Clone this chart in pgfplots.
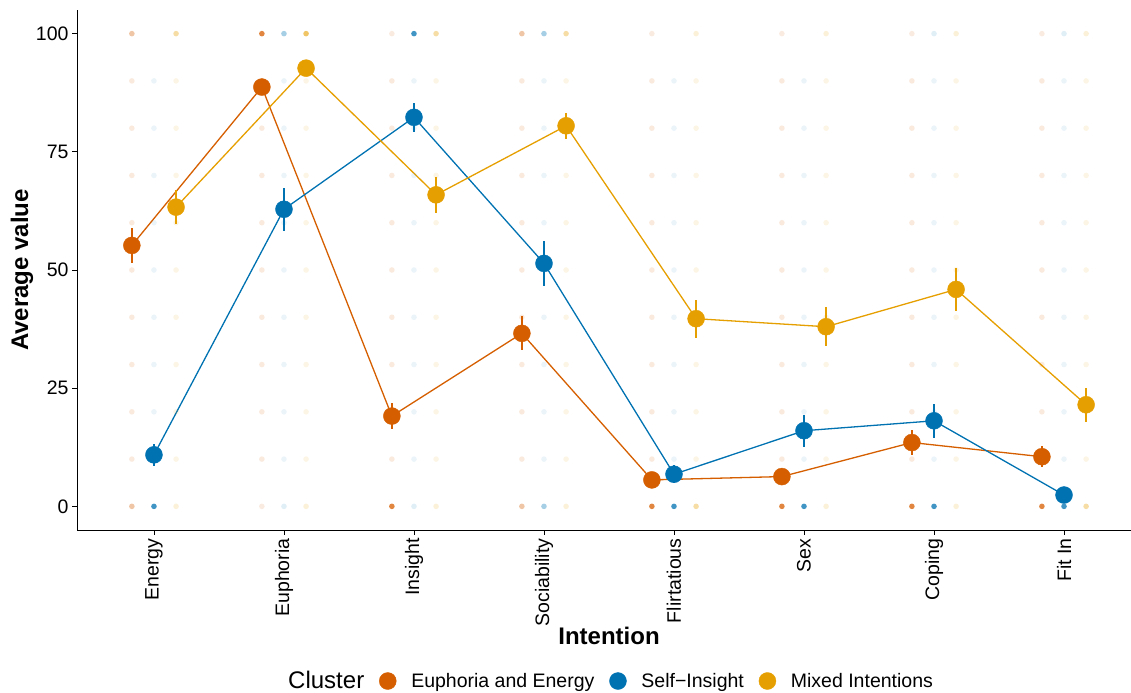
\documentclass[border=0pt]{standalone}
\usepackage{pgfplots}
\pgfplotsset{compat=1.18}
\usepackage{fontspec}
\setmainfont{Liberation Sans}
\definecolor{oE}{HTML}{D55E00}
\definecolor{oS}{HTML}{0072B2}
\definecolor{oM}{HTML}{E69F00}
\newcommand{\tf}{\fontsize{19.5bp}{23bp}\selectfont}
\pgfplotsset{
  bg/.style n args={2}{forget plot, only marks, color=#1, mark=*, mark size=2.8bp,
    mark options={solid, fill=#1, draw=#1, fill opacity=#2, draw opacity=0}},
  mainser/.style={forget plot, #1, line width=1.3bp, mark=*, mark size=8.5bp,
    mark options={solid, fill=#1, draw=#1, line width=0.4bp}},
}
\begin{document}
\begin{tikzpicture}
\path[use as bounding box] (0,0) rectangle (1131bp,693bp);
\begin{axis}[
  at={(77bp,163bp)}, anchor=south west, scale only axis,
  width=1054bp, height=520bp,
  xmin=0.408, xmax=8.515, ymin=-5, ymax=105,
  axis x line*=bottom, axis y line*=left,
  axis line style={line width=0.8bp, black},
  xtick={1,...,8},
  xticklabels={Energy,Euphoria,Insight,Sociability,Flirtatious,Sex,Coping,Fit In},
  ytick={0,25,50,75,100},
  tick align=outside, major tick length=5bp,
  tick style={line width=0.8bp, black},
  xticklabel style={rotate=90, anchor=east, font=\tf},
  yticklabel style={font=\tf},
  /pgf/number format/assume math mode=true,
  legend columns=-1,
  legend cell align=left,
  legend style={at={(0.186,-0.2904)}, anchor=west, draw=none, fill=none,
    inner sep=0pt, font=\tf, nodes={inner sep=0pt},
    /tikz/every odd column/.append style={column sep=15bp},
    /tikz/every even column/.append style={column sep=15bp}},
]
% ---------- faint individual responses ----------
\addplot[bg={oE}{0.13}] coordinates {
(0.83,10)(0.83,20)(0.83,30)(0.83,40)(0.83,50)(0.83,60)(0.83,70)(0.83,80)(0.83,90)
(1.83,10)(1.83,20)(1.83,30)(1.83,40)(1.83,50)(1.83,60)(1.83,70)(1.83,80)(1.83,90)
(2.83,10)(2.83,20)(2.83,30)(2.83,40)(2.83,50)(2.83,60)(2.83,70)(2.83,80)(2.83,90)
(3.83,10)(3.83,20)(3.83,30)(3.83,40)(3.83,50)(3.83,60)(3.83,70)(3.83,80)(3.83,90)
(4.83,10)(4.83,20)(4.83,30)(4.83,40)(4.83,50)(4.83,60)(4.83,70)(4.83,80)(4.83,90)
(5.83,10)(5.83,20)(5.83,30)(5.83,40)(5.83,50)(5.83,60)(5.83,70)(5.83,80)(5.83,90)
(6.83,10)(6.83,20)(6.83,30)(6.83,40)(6.83,50)(6.83,60)(6.83,70)(6.83,80)(6.83,90)
(7.83,10)(7.83,20)(7.83,30)(7.83,40)(7.83,50)(7.83,60)(7.83,70)(7.83,80)(7.83,90)
};
\addplot[bg={oS}{0.08}] coordinates {
(1,10)(1,20)(1,30)(1,40)(1,50)(1,60)(1,70)(1,80)(1,90)
(2,10)(2,20)(2,30)(2,40)(2,50)(2,60)(2,70)(2,80)(2,90)
(3,10)(3,20)(3,30)(3,40)(3,50)(3,60)(3,70)(3,80)(3,90)
(4,10)(4,20)(4,30)(4,40)(4,50)(4,60)(4,70)(4,80)(4,90)
(5,10)(5,20)(5,30)(5,40)(5,50)(5,60)(5,70)(5,80)(5,90)
(6,10)(6,20)(6,30)(6,40)(6,50)(6,60)(6,70)(6,80)(6,90)
(7,10)(7,20)(7,30)(7,40)(7,50)(7,60)(7,70)(7,80)(7,90)
(8,10)(8,20)(8,30)(8,40)(8,50)(8,60)(8,70)(8,80)(8,90)
};
\addplot[bg={oM}{0.10}] coordinates {
(1.17,10)(1.17,20)(1.17,30)(1.17,40)(1.17,50)(1.17,60)(1.17,70)(1.17,80)(1.17,90)
(2.17,10)(2.17,20)(2.17,30)(2.17,40)(2.17,50)(2.17,60)(2.17,70)(2.17,80)(2.17,90)
(3.17,10)(3.17,20)(3.17,30)(3.17,40)(3.17,50)(3.17,60)(3.17,70)(3.17,80)(3.17,90)
(4.17,10)(4.17,20)(4.17,30)(4.17,40)(4.17,50)(4.17,60)(4.17,70)(4.17,80)(4.17,90)
(5.17,10)(5.17,20)(5.17,30)(5.17,40)(5.17,50)(5.17,60)(5.17,70)(5.17,80)(5.17,90)
(6.17,10)(6.17,20)(6.17,30)(6.17,40)(6.17,50)(6.17,60)(6.17,70)(6.17,80)(6.17,90)
(7.17,10)(7.17,20)(7.17,30)(7.17,40)(7.17,50)(7.17,60)(7.17,70)(7.17,80)(7.17,90)
(8.17,10)(8.17,20)(8.17,30)(8.17,40)(8.17,50)(8.17,60)(8.17,70)(8.17,80)(8.17,90)
};
% extremes 0 and 100
\addplot[bg={oE}{0.75}] coordinates {(1.83,100)(2.83,0)(4.83,0)(5.83,0)(6.83,0)(7.83,0)};
\addplot[bg={oE}{0.35}] coordinates {(0.83,0)(0.83,100)(3.83,0)(3.83,100)};
\addplot[bg={oE}{0.12}] coordinates {(1.83,0)(2.83,100)(4.83,100)(5.83,100)(6.83,100)(7.83,100)};
\addplot[bg={oS}{0.75}] coordinates {(1,0)(3,100)(5,0)(6,0)(7,0)(8,0)};
\addplot[bg={oS}{0.35}] coordinates {(2,100)(4,0)(4,100)};
\addplot[bg={oS}{0.12}] coordinates {(2,0)(3,0)(7,100)(8,100)};
\addplot[bg={oM}{0.6}] coordinates {(2.17,100)};
\addplot[bg={oM}{0.35}] coordinates {(4.17,100)(5.17,0)(8.17,0)(1.17,100)(3.17,100)};
\addplot[bg={oM}{0.15}] coordinates {(1.17,0)(2.17,0)(3.17,0)(4.17,0)(6.17,0)(7.17,0)(5.17,100)(6.17,100)(7.17,100)(8.17,100)};
% ---------- cluster means ----------
\addplot[mainser=oE, error bars/.cd, y dir=both, y explicit, error mark=none,
  error bar style={line width=2bp, oE}] coordinates {
(0.83,55.2) +- (0,3.7)
(1.83,88.7) +- (0,1.5)
(2.83,19.1) +- (0,2.8)
(3.83,36.6) +- (0,3.6)
(4.83,5.6) +- (0,1.0)
(5.83,6.3) +- (0,1.0)
(6.83,13.5) +- (0,2.6)
(7.83,10.5) +- (0,2.2)
};
\addplot[mainser=oS, error bars/.cd, y dir=both, y explicit, error mark=none,
  error bar style={line width=2bp, oS}] coordinates {
(1,10.9) +- (0,2.3)
(2,62.85) +- (0,4.5)
(3,82.3) +- (0,3.1)
(4,51.4) +- (0,4.7)
(5,6.8) +- (0,1.9)
(6,16.0) +- (0,3.4)
(7,18.1) +- (0,3.6)
(8,2.4) +- (0,1.2)
};
\addplot[mainser=oM, error bars/.cd, y dir=both, y explicit, error mark=none,
  error bar style={line width=2bp, oM}] coordinates {
(1.17,63.3) +- (0,3.6)
(2.17,92.7) +- (0,1.5)
(3.17,65.9) +- (0,3.8)
(4.17,80.5) +- (0,2.7)
(5.17,39.7) +- (0,4.0)
(6.17,38.0) +- (0,4.1)
(7.17,45.9) +- (0,4.5)
(8.17,21.5) +- (0,3.6)
};
% ---------- legend ----------
\addlegendimage{empty legend}
\addlegendentry{\fontsize{24bp}{28bp}\selectfont Cluster}
\addlegendimage{only marks, mark=*, mark size=8.5bp, color=oE, fill=oE}
\addlegendentry{Euphoria and Energy}
\addlegendimage{only marks, mark=*, mark size=8.5bp, color=oS, fill=oS}
\addlegendentry{Self\textminus Insight}
\addlegendimage{only marks, mark=*, mark size=8.5bp, color=oM, fill=oM}
\addlegendentry{Mixed Intentions}
\end{axis}
\node[font=\fontsize{24bp}{28bp}\selectfont\bfseries] at (609bp,57bp) {Intention};
\node[font=\fontsize{24bp}{28bp}\selectfont\bfseries, rotate=90] at (22bp,423bp) {Average value};
\end{tikzpicture}
\end{document}
